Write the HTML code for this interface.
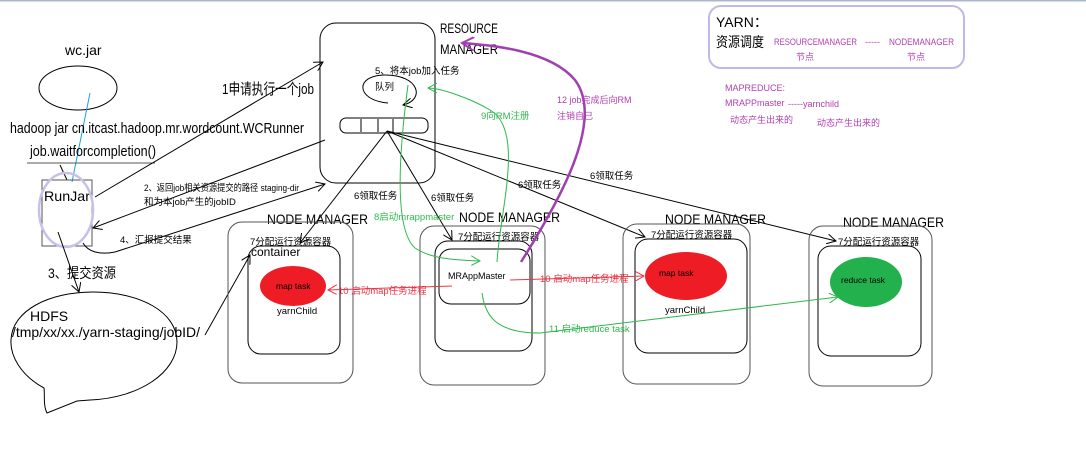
<!DOCTYPE html>
<html><head><meta charset="utf-8"><style>
html,body{margin:0;padding:0;background:#fff;width:1086px;height:459px;overflow:hidden}
svg text{font-family:"Liberation Sans","Noto Sans CJK SC",sans-serif}
</style></head><body>
<svg width="1086" height="459" viewBox="0 0 1086 459" xmlns="http://www.w3.org/2000/svg">
<defs>
<marker id="a" markerWidth="10" markerHeight="10" refX="9" refY="5" orient="auto" markerUnits="userSpaceOnUse"><path d="M0,0 L9,5 L0,10" fill="none" stroke="#000" stroke-width="1"/></marker>
<marker id="ag" markerWidth="10" markerHeight="10" refX="9" refY="5" orient="auto" markerUnits="userSpaceOnUse"><path d="M0,0 L9,5 L0,10" fill="none" stroke="#2db84d" stroke-width="1"/></marker>
<marker id="ar" markerWidth="10" markerHeight="10" refX="9" refY="5" orient="auto" markerUnits="userSpaceOnUse"><path d="M0,0 L9,5 L0,10" fill="none" stroke="#ee3344" stroke-width="1"/></marker>
<marker id="ap" markerWidth="14" markerHeight="14" refX="12" refY="7" orient="auto" markerUnits="userSpaceOnUse"><path d="M0,0 L12,7 L0,14" fill="none" stroke="#a040b0" stroke-width="2"/></marker>
</defs>
<line x1="0" y1="0.5" x2="1086" y2="0.5" stroke="#a8b8cc" stroke-width="2"/>

<!-- left -->
<text x="65" y="55" font-size="14">wc.jar</text>
<ellipse cx="78" cy="88" rx="39" ry="22" fill="none" stroke="#000"/>
<line x1="90" y1="93" x2="72" y2="182" stroke="#1fa0e0"/>
<text x="10" y="133" font-size="15" textLength="294" lengthAdjust="spacingAndGlyphs">hadoop jar cn.itcast.hadoop.mr.wordcount.WCRunner</text>
<text x="30" y="156" font-size="15" textLength="126" lengthAdjust="spacingAndGlyphs">job.waitforcompletion()</text>
<line x1="27" y1="163" x2="155" y2="163" stroke="#555"/>
<line x1="60" y1="165" x2="67" y2="180" stroke="#000"/>
<rect x="42" y="180" width="50" height="66" fill="none" stroke="#555"/>
<text x="44" y="201" font-size="14" textLength="46" lengthAdjust="spacingAndGlyphs">RunJar</text>
<ellipse cx="66" cy="210" rx="27" ry="37" fill="none" stroke="#c8c0e8" stroke-width="2.5"/>
<line x1="58" y1="232" x2="79" y2="292" stroke="#000" marker-end="url(#a)"/>
<text x="48" y="278" font-size="14" textLength="68" lengthAdjust="spacingAndGlyphs">3、提交资源</text>
<path d="M47,413 C43,405 45,395 44,388 C20,375 10,355 11,340 C12,310 50,292 93,292 C140,292 177,312 177,342 C177,372 140,398 90,400 L77,401 Z" fill="none" stroke="#000"/>
<text x="30" y="321" font-size="14">HDFS</text>
<text x="12" y="337" font-size="14" textLength="188" lengthAdjust="spacingAndGlyphs">/tmp/xx/xx./yarn-staging/jobID/</text>
<line x1="205" y1="335" x2="250" y2="255" stroke="#000" marker-end="url(#a)"/>

<!-- arrows to RM -->
<line x1="95" y1="197" x2="323" y2="62" stroke="#000" marker-end="url(#a)"/>
<text x="222" y="94" font-size="15" textLength="92" lengthAdjust="spacingAndGlyphs">1申请执行一个job</text>
<line x1="325" y1="140" x2="93" y2="228" stroke="#000" marker-end="url(#a)"/>
<text x="144" y="191" font-size="9.5" textLength="155" lengthAdjust="spacingAndGlyphs">2、返回job相关资源提交的路径 staging-dir</text>
<text x="144" y="205" font-size="9.5">和为本job产生的jobID</text>
<path d="M83,243 C88,252 100,255 115,252 L325,184" fill="none" stroke="#000" marker-end="url(#a)"/>
<text x="120" y="243" font-size="9.5">4、汇报提交结果</text>

<!-- RM -->
<rect x="320" y="23" width="115" height="160" rx="16" fill="none" stroke="#000"/>
<text x="440" y="33" font-size="14" textLength="58" lengthAdjust="spacingAndGlyphs">RESOURCE</text>
<text x="440" y="54" font-size="14" textLength="58" lengthAdjust="spacingAndGlyphs">MANAGER</text>
<text x="375" y="74" font-size="9.5">5、将本job加入任务</text>
<text x="375" y="90" font-size="9.5">队列</text>
<path d="M388,103 C355,100 355,75 385,75 C420,75 425,100 403,105" fill="none" stroke="#000" marker-end="url(#a)"/>
<rect x="340" y="118" width="88" height="15" rx="6" fill="none" stroke="#000"/>
<line x1="361" y1="119" x2="361" y2="132" stroke="#000"/>
<line x1="378" y1="119" x2="378" y2="132" stroke="#000"/>
<line x1="393" y1="119" x2="393" y2="132" stroke="#000"/>
<line x1="387" y1="131" x2="300" y2="243" stroke="#000" marker-end="url(#a)"/>
<line x1="387" y1="131" x2="452" y2="240" stroke="#000" marker-end="url(#a)"/>
<line x1="387" y1="131" x2="645" y2="237" stroke="#000" marker-end="url(#a)"/>
<line x1="387" y1="131" x2="836" y2="241" stroke="#000" marker-end="url(#a)"/>
<text x="354" y="199" font-size="9.5">6领取任务</text>
<text x="431" y="201" font-size="9.5">6领取任务</text>
<text x="518" y="188" font-size="9.5">6领取任务</text>
<text x="590" y="179" font-size="9.5">6领取任务</text>

<!-- YARN box -->
<rect x="709" y="6" width="255" height="62" rx="12" fill="none" stroke="#c0b8e8" stroke-width="2"/>
<text x="716" y="27" font-size="14">YARN：</text>
<text x="716" y="47" font-size="14" textLength="48" lengthAdjust="spacingAndGlyphs">资源调度</text>
<text x="774" y="45" font-size="9" fill="#b040b0" textLength="83" lengthAdjust="spacingAndGlyphs">RESOURCEMANAGER</text>
<text x="865" y="45" font-size="9" fill="#b040b0">-----</text>
<text x="889" y="45" font-size="9" fill="#b040b0" textLength="65" lengthAdjust="spacingAndGlyphs">NODEMANAGER</text>
<text x="796" y="60" font-size="9" fill="#b040b0">节点</text>
<text x="907" y="60" font-size="9" fill="#b040b0">节点</text>
<text x="725" y="91" font-size="9" fill="#b040b0">MAPREDUCE:</text>
<text x="725" y="106" font-size="9" fill="#b040b0">MRAPPmaster</text>
<text x="788" y="107" font-size="9" fill="#b040b0">-----yarnchild</text>
<text x="730" y="123" font-size="9" fill="#b040b0">动态产生出来的</text>
<text x="817" y="126" font-size="9" fill="#b040b0">动态产生出来的</text>

<!-- Node managers -->
<text x="267" y="224" font-size="14" textLength="101" lengthAdjust="spacingAndGlyphs">NODE MANAGER</text>
<rect x="228" y="222" width="125" height="161" rx="14" fill="none" stroke="#555"/>
<rect x="248" y="246" width="92" height="108" rx="13" fill="none" stroke="#000"/>
<text x="250" y="245" font-size="9.5">7分配运行资源容器</text>
<text x="251" y="256" font-size="12">container</text>
<ellipse cx="293" cy="286" rx="33" ry="20" fill="#ee1c24"/>
<text x="276" y="289" font-size="8.5">map task</text>
<text x="277" y="314" font-size="9.5">yarnChild</text>

<text x="459" y="222" font-size="14" textLength="101" lengthAdjust="spacingAndGlyphs">NODE MANAGER</text>
<rect x="420" y="226" width="125" height="159" rx="14" fill="none" stroke="#555"/>
<rect x="435" y="241" width="97" height="110" rx="13" fill="none" stroke="#000"/>
<rect x="439" y="249" width="91" height="55" rx="12" fill="none" stroke="#000"/>
<text x="458" y="240" font-size="9.5">7分配运行资源容器</text>
<text x="448" y="279" font-size="9">MRAppMaster</text>

<text x="665" y="224" font-size="14" textLength="101" lengthAdjust="spacingAndGlyphs">NODE MANAGER</text>
<rect x="623" y="224" width="127" height="160" rx="14" fill="none" stroke="#555"/>
<rect x="635" y="239" width="112" height="114" rx="13" fill="none" stroke="#000"/>
<text x="651" y="238" font-size="9.5">7分配运行资源容器</text>
<ellipse cx="686" cy="276" rx="41" ry="24" fill="#ee1c24"/>
<text x="659" y="276" font-size="8.5">map task</text>
<text x="665" y="313" font-size="9.5">yarnChild</text>

<text x="843" y="227" font-size="14" textLength="101" lengthAdjust="spacingAndGlyphs">NODE MANAGER</text>
<rect x="809" y="226" width="123" height="160" rx="14" fill="none" stroke="#555"/>
<rect x="818" y="246" width="103" height="110" rx="13" fill="none" stroke="#000"/>
<text x="838" y="245" font-size="9.5">7分配运行资源容器</text>
<ellipse cx="866" cy="282" rx="36" ry="25" fill="#22b14c"/>
<text x="841" y="283" font-size="8.5">reduce task</text>

<!-- green -->
<path d="M408,85 C398,160 395,230 415,248 C430,258 450,260 480,261" fill="none" stroke="#2db84d" marker-end="url(#ag)"/>
<text x="374" y="220" font-size="9.5" fill="#2db84d">8启动mrappmaster</text>
<path d="M497,262 C500,210 525,130 490,110 C470,98 440,88 428,88" fill="none" stroke="#2db84d" marker-end="url(#ag)"/>
<text x="481" y="119" font-size="9.5" fill="#2db84d">9向RM注册</text>
<path d="M482,293 C485,315 495,333 540,333 L838,297" fill="none" stroke="#2db84d" marker-end="url(#ag)"/>
<text x="549" y="332" font-size="9.5" fill="#2db84d">11 启动reduce task</text>
<!-- red -->
<line x1="452" y1="286" x2="328" y2="290" stroke="#ee3344" marker-end="url(#ar)"/>
<text x="338" y="294" font-size="9.5" fill="#ee3344">10 启动map任务进程</text>
<line x1="510" y1="280" x2="644" y2="276" stroke="#ee3344" marker-end="url(#ar)"/>
<text x="540" y="282" font-size="9.5" fill="#ee3344">10 启动map任务进程</text>
<!-- purple -->
<path d="M521,262 C560,200 605,120 575,80 C550,50 490,45 462,43" fill="none" stroke="#a040b0" stroke-width="2.5" marker-end="url(#ap)"/>
<text x="557" y="103" font-size="9" fill="#b040b0">12 job完成后向RM</text>
<text x="557" y="119" font-size="9" fill="#b040b0">注销自己</text>
</svg>
</body></html>
